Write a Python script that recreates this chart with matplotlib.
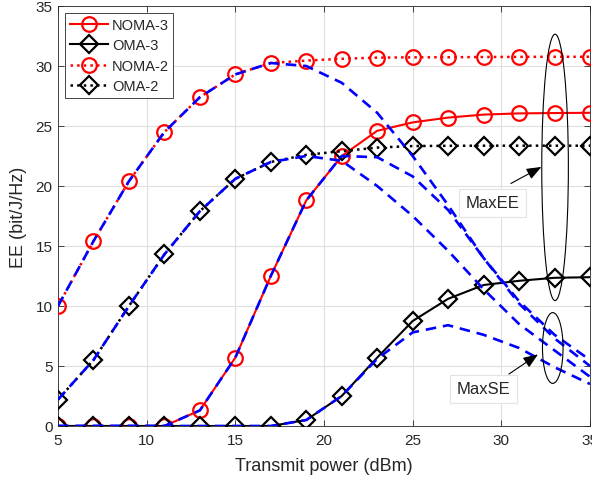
import matplotlib
matplotlib.use("Agg")
import matplotlib.pyplot as plt
from matplotlib.patches import Ellipse

plt.rcParams['font.family'] = ['Liberation Sans', 'DejaVu Sans']

# ---- data ----
power = [5, 7, 9, 11, 13, 15, 17, 19, 21, 23, 25, 27, 29, 31, 33, 35]

noma3_ee = [0, 0, 0, 0, 1.3, 5.7, 12.5, 18.8, 22.5, 24.6, 25.3, 25.7, 25.95, 26.05, 26.08, 26.1]
oma3_ee = [0, 0, 0, 0, 0, 0, 0, 0.5, 2.5, 5.7, 8.75, 10.6, 11.75, 12.1, 12.35, 12.4]
noma2_ee = [10.0, 15.4, 20.4, 24.5, 27.4, 29.3, 30.25, 30.45, 30.6, 30.7, 30.72, 30.73, 30.75, 30.76, 30.77, 30.77]
oma2_ee = [2.2, 5.5, 10.0, 14.3, 17.9, 20.6, 22.0, 22.6, 22.9, 23.2, 23.33, 23.35, 23.36, 23.36, 23.36, 23.36]

noma3_se = [0, 0, 0, 0, 1.3, 5.7, 12.5, 18.8, 22.5, 22.4, 20.8, 18.0, 14.0, 10.2, 7.3, 5.0]
oma3_se = [0, 0, 0, 0, 0, 0, 0, 0.5, 2.5, 5.6, 7.8, 8.4, 7.6, 6.5, 4.9, 3.5]
noma2_se = [10.0, 15.4, 20.4, 24.5, 27.4, 29.3, 30.25, 30.0, 28.6, 26.1, 22.5, 18.4, 14.0, 10.4, 7.6, 5.5]
oma2_se = [2.2, 5.5, 10.0, 14.3, 17.9, 20.6, 22.0, 22.5, 22.1, 20.0, 17.5, 14.6, 11.4, 8.5, 6.3, 4.1]

labels = ['NOMA-3', 'OMA-3', 'NOMA-2', 'OMA-2']
xticks = [5, 10, 15, 20, 25, 30, 35]
yticks = [0, 5, 10, 15, 20, 25, 30, 35]

# ---- figure ----
fig = plt.figure(figsize=(5.92, 4.85), dpi=100)
ax = fig.add_axes([58/592, (485-427)/485, 532/592, 420/485])

txtc = '#262626'
ms = 10.5
mew = 1.6
lw = 1.5

ax.plot(power, noma3_ee, color='red', ls='-', lw=lw, marker='o', ms=ms, mfc='none', mew=mew, label=labels[0], zorder=3)
ax.plot(power, oma3_ee, color='black', ls='-', lw=lw, marker='D', ms=ms*0.9, mfc='none', mew=mew, label=labels[1], zorder=3)
ax.plot(power, noma2_ee, color='red', ls=':', lw=lw+0.3, marker='o', ms=ms, mfc='none', mew=mew, label=labels[2], zorder=3)
ax.plot(power, oma2_ee, color='black', ls=':', lw=lw+0.3, marker='D', ms=ms*0.9, mfc='none', mew=mew, label=labels[3], zorder=3)

for se in (noma3_se, oma3_se, noma2_se, oma2_se):
    ax.plot(power, se, color='blue', ls=(0, (4, 2.6)), lw=1.9, zorder=4)

ax.set_xlim(5, 35)
ax.set_ylim(0, 35)
ax.set_xticks(xticks)
ax.set_yticks(yticks)
ax.tick_params(direction='in', length=4, width=0.6, top=True, right=True,
               labelsize=11, colors=txtc)
ax.tick_params(axis='x', pad=5)
ax.tick_params(axis='y', pad=4)
ax.grid(True, color='#dfdfdf', lw=0.8)
ax.set_axisbelow(True)
for s in ax.spines.values():
    s.set_color(txtc)
    s.set_linewidth(0.6)

ax.set_xlabel('Transmit power (dBm)', fontsize=13, color=txtc, labelpad=7)
ax.set_ylabel('EE (bit/J/Hz)', fontsize=13, color=txtc, labelpad=6)

leg = ax.legend(loc='upper left', fontsize=10.5, handlelength=2.6, numpoints=1,
                fancybox=False, framealpha=1, edgecolor=txtc, borderaxespad=0.5,
                labelspacing=0.45, handletextpad=0.3, borderpad=0.3)
leg.get_frame().set_linewidth(0.6)
for t in leg.get_texts():
    t.set_color(txtc)

# annotations
ax.add_patch(Ellipse((33.03, 21.55), 1.5, 22.2, fill=False, ec='black', lw=0.8, zorder=5))
ax.add_patch(Ellipse((32.9, 6.5), 1.16, 5.9, fill=False, ec='black', lw=0.8, zorder=5))

bbox = dict(boxstyle='square,pad=0.4', fc='white', ec='#e3e3e3', lw=0.8)
ax.text(29.5, 18.6, 'MaxEE', fontsize=12, color=txtc, ha='center', va='center', bbox=bbox, zorder=6)
ax.text(29.0, 3.1, 'MaxSE', fontsize=12, color=txtc, ha='center', va='center', bbox=bbox, zorder=6)

ax.annotate('', xy=(32.4, 21.7), xytext=(30.4, 20.1),
            arrowprops=dict(arrowstyle='-|>,head_length=0.9,head_width=0.35', color='black', lw=0.8), zorder=6)
ax.annotate('', xy=(32.2, 6.1), xytext=(30.3, 4.2),
            arrowprops=dict(arrowstyle='-|>,head_length=0.9,head_width=0.35', color='black', lw=0.8), zorder=6)

fig.savefig('out.png', dpi=100)
